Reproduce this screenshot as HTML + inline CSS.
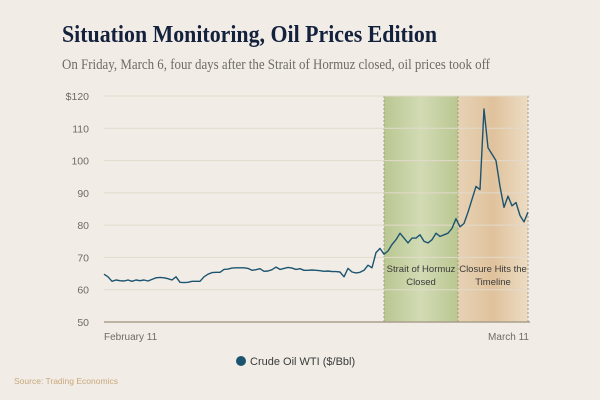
<!DOCTYPE html>
<html><head><meta charset="utf-8"><style>
html,body{margin:0;padding:0;background:#f1ede6;}
svg{display:block;}
</style></head><body>
<svg id="chart" width="600" height="400" viewBox="0 0 600 400" xmlns="http://www.w3.org/2000/svg">
<defs>
<linearGradient id="gg" x1="0" x2="1" y1="0" y2="0"><stop offset="0" stop-color="#b9c792"/><stop offset="0.5" stop-color="#d2dbb4"/><stop offset="1" stop-color="#b9c792"/></linearGradient>
<linearGradient id="og" x1="0" x2="1" y1="0" y2="0"><stop offset="0" stop-color="#e6d2b4"/><stop offset="0.5" stop-color="#e0c29c"/><stop offset="1" stop-color="#ecdcc4"/></linearGradient>
</defs>
<rect width="600" height="400" fill="#f1ede6"/>
<text x="62" y="42" font-family="Liberation Serif, serif" font-weight="bold" font-size="24" fill="#14213d" textLength="375" lengthAdjust="spacingAndGlyphs">Situation Monitoring, Oil Prices Edition</text>
<text x="62" y="69" font-family="Liberation Serif, serif" font-size="15" fill="#6e6a66" textLength="428" lengthAdjust="spacingAndGlyphs">On Friday, March 6, four days after the Strait of Hormuz closed, oil prices took off</text>
<g id="bands"></g>
<g id="grid"></g>
<g id="ann"></g>
<path id="line" fill="none" stroke="#1c5470" stroke-width="1.4" stroke-linejoin="round"/>
<text x="104" y="340" font-family="Liberation Sans, sans-serif" font-size="10" fill="#6e6a66">February 11</text>
<text x="529" y="340" text-anchor="end" font-family="Liberation Sans, sans-serif" font-size="10" fill="#6e6a66">March 11</text>
<g>
<circle cx="241" cy="361" r="5" fill="#1c5470"/>
<text x="250" y="365" font-family="Liberation Sans, sans-serif" font-size="11" fill="#3a3a3a">Crude Oil WTI ($/Bbl)</text>
</g>
<text x="14" y="384" font-family="Liberation Sans, sans-serif" font-size="8.5" fill="#c9a77c">Source: Trading Economics</text>
</svg>
<script>
const prices=[64.8,64.0,62.6,63.0,62.8,62.7,63.0,62.6,63.0,62.8,63.0,62.7,63.2,63.7,63.8,63.7,63.4,63.0,64.0,62.3,62.2,62.3,62.6,62.6,62.6,64.0,64.8,65.3,65.4,65.4,66.3,66.4,66.7,66.8,66.8,66.8,66.6,66.0,66.2,66.5,65.7,65.8,66.2,67.0,66.3,66.6,66.9,66.7,66.3,66.5,66.0,66.0,66.1,66.0,65.9,65.7,65.8,65.6,65.6,65.5,64.0,66.6,65.5,65.2,65.4,66.0,67.6,66.8,71.5,72.8,71.0,72.0,74.0,75.5,77.5,76.0,74.5,76.0,76.0,77.0,75.0,74.5,75.5,77.5,76.5,77.0,77.5,79.0,82.0,79.5,80.5,84.0,88.0,92.0,91.0,116.0,104.0,102.0,100.0,92.0,85.5,89.0,86.0,87.0,83.0,81.0,84.0];
const yTicks=[50,60,70,80,90,100,110,120];
const yTickLabels=["50","60","70","80","90","100","110","$120"];
const bandStarts=[70,88.5];
const bandEnds=[88.5,106];
const bandLabels1=["Strait of Hormuz","Closure Hits the"];
const bandLabels2=["Closed","Timeline"];
const NS="http://www.w3.org/2000/svg";
const X0=104,X1=528,Y0=322,Y1=96,VMIN=50,VMAX=120;
const xs=i=>X0+(X1-X0)*i/(prices.length-1);
const ys=v=>Y0-(v-VMIN)/(VMAX-VMIN)*(Y0-Y1);
function mk(tag,attrs,parent){const e=document.createElementNS(NS,tag);for(const k in attrs)e.setAttribute(k,attrs[k]);parent.appendChild(e);return e;}
const bands=document.getElementById('bands');
const fills=["url(#gg)","url(#og)"];
bandStarts.forEach((s,i)=>{
  const r=mk('rect',{x:xs(s),y:Y1,width:xs(bandEnds[i])-xs(s),height:Y0-Y1,fill:fills[i]},bands);
  
  
  [s,bandEnds[i]].forEach(b=>{
    const l=mk('line',{x1:xs(b),x2:xs(b),y1:Y1,y2:Y0,stroke:"#a59a7c","stroke-width":1,"stroke-dasharray":"2,2"},bands);
    
    
  });
});
const grid=document.getElementById('grid');
yTicks.forEach((t,i)=>{
  if(t!==VMIN){const g=mk('line',{x1:X0,x2:530,y1:ys(t),y2:ys(t),stroke:"#e2dacb","stroke-width":1},grid);
  
  }
  const tx=mk('text',{x:89,y:ys(t)+4,"text-anchor":"end","font-family":"Liberation Sans, sans-serif","font-size":"10.5",fill:"#6e6a66"},grid);
  tx.textContent=yTickLabels[i];
  
  
});
const ax=mk('line',{x1:X0,x2:530,y1:Y0,y2:Y0,stroke:"#aa9f8c","stroke-width":1.5},grid);


const ann=document.getElementById('ann');
bandStarts.forEach((s,i)=>{
  const cx=(xs(s)+xs(bandEnds[i]))/2;
  [bandLabels1[i],bandLabels2[i]].forEach((t,j)=>{
    const tx=mk('text',{x:cx,y:272+j*13,"text-anchor":"middle","font-family":"Liberation Sans, sans-serif","font-size":"9.5",fill:"#3a3a3a"},ann);
    tx.textContent=t;
    
    
  });
});
document.getElementById('line').setAttribute('d',prices.map((v,i)=>(i?'L':'M')+xs(i).toFixed(1)+','+ys(v).toFixed(1)).join(''));
</script>
</body></html>
